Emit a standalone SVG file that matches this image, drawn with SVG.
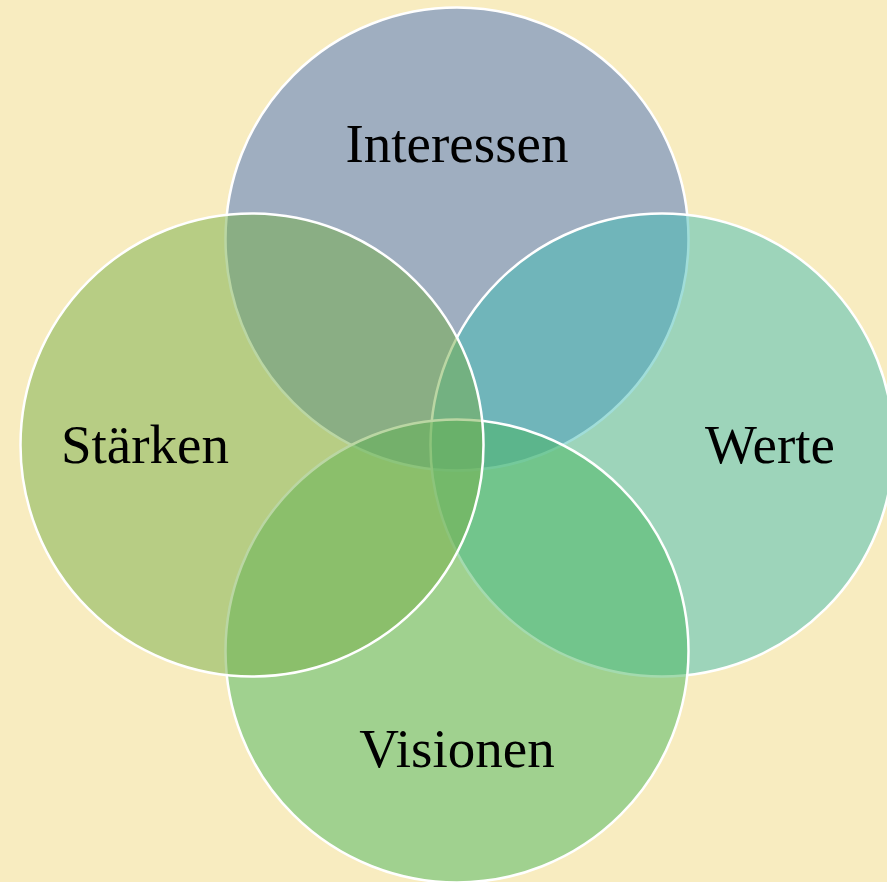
<svg xmlns="http://www.w3.org/2000/svg" width="887" height="882" viewBox="0 0 887 882">
<style>
.c{fill-opacity:0.5;stroke:#FFFFFF;stroke-width:2.5}
.t{font-family:"Liberation Serif","DejaVu Serif",serif;font-size:55px;fill:#000000;text-anchor:middle}
</style>
<rect x="0" y="0" width="887" height="882" fill="#F8ECC0"/>
<g id="circle-interessen"><circle class="c" cx="457" cy="239" r="231.5" fill="#4670C0"/></g>
<g id="circle-werte"><circle class="c" cx="662" cy="445" r="231.5" fill="#42BCB4"/></g>
<g id="circle-visionen"><circle class="c" cx="457" cy="651" r="231.5" fill="#48B65E"/></g>
<g id="circle-staerken"><circle class="c" cx="252" cy="445" r="231.5" fill="#76AE48"/></g>
<g id="connectors"></g>
<g id="labels">
<text class="t" x="457" y="162">Interessen</text>
<text class="t" x="145" y="463">Stärken</text>
<text class="t" x="770" y="463">Werte</text>
<text class="t" x="457" y="767">Visionen</text>
</g>
</svg>
